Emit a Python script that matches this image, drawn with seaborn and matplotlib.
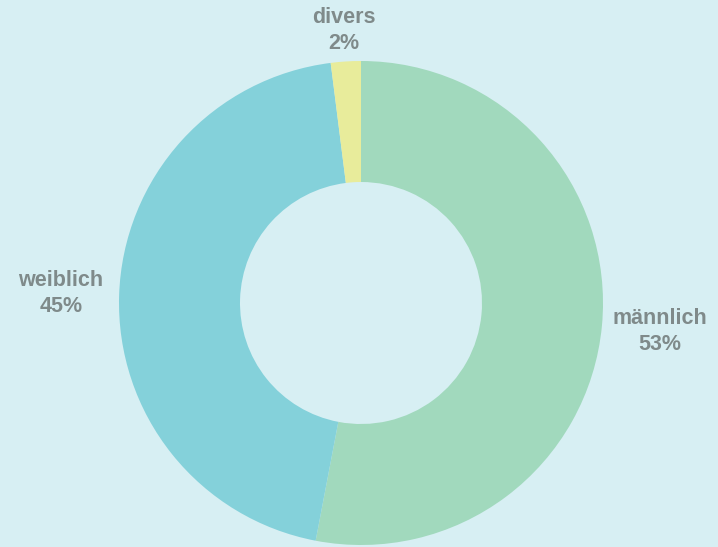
import numpy as np
import matplotlib
matplotlib.use("Agg")
import matplotlib.pyplot as plt
import seaborn as sns

# data
categories = ["männlich", "weiblich", "divers"]
shares = [53, 45, 2]
colors = ["#a1d9bd", "#84d1da", "#e8ec9b"]

bg = "#d7eff3"
text_color = "#7f8a8a"

sns.set_style("white")
plt.rcParams["font.family"] = ["Liberation Sans", "DejaVu Sans"]

fig = plt.figure(figsize=(7.18, 5.47), dpi=100, facecolor=bg)
W, H = 718, 547
cx, cy, r = 361, 303, 242
ax = fig.add_axes([(cx - r) / W, (H - cy - r) / H, 2 * r / W, 2 * r / H])
ax.set_facecolor(bg)

wedges, _ = ax.pie(shares, colors=colors, startangle=90, counterclock=False,
                   radius=1, wedgeprops=dict(width=0.5, edgecolor="none"))
ax.set_xlim(-1, 1)
ax.set_ylim(-1, 1)
ax.set_aspect("equal")
ax.axis("off")

# labels outside each slice
for w, name, val in zip(wedges, categories, shares):
    ang = np.deg2rad((w.theta1 + w.theta2) / 2)
    dx, dy = np.cos(ang), np.sin(ang)
    dist = 1.12 + 0.12 * abs(dx)
    ax.text(dist * dx, dist * dy, f"{name}\n{val}%", ha="center", va="center",
            fontsize=15.5, fontweight="bold", color=text_color, linespacing=1.3)

fig.savefig("out.png", dpi=100, facecolor=bg)
